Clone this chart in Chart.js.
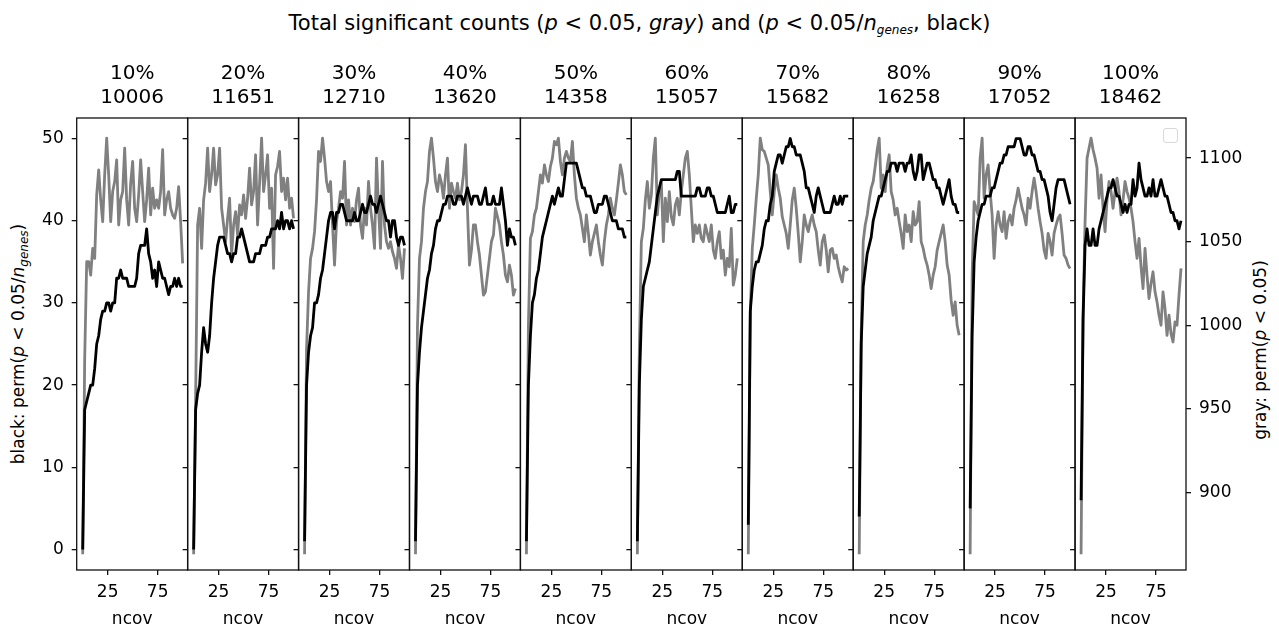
<!DOCTYPE html>
<html>
<head>
<meta charset="utf-8">
<script src="https://cdn.jsdelivr.net/npm/chart.js@4.4.0/dist/chart.umd.min.js"></script>
<style>
html, body { margin: 0; padding: 0; background: #fff; }
#wrap { position: relative; width: 1279px; height: 628px; overflow: hidden; font-family: 'DejaVu Sans', sans-serif; color: #000; }
#wrap canvas { position: absolute; left: 0; top: 0; }
.title { position: absolute; left: 0; width: 1279px; top: 10px; text-align: center; font-size: 21px; line-height: 27px; white-space: nowrap; }
.ylab { position: absolute; white-space: nowrap; font-size: 17px; line-height: 20px; transform: translate(-50%, -50%) rotate(-90deg); }
sub { font-size: 12px; vertical-align: -4px; line-height: 0; }
.legendbox { position: absolute; left: 1163px; top: 128px; width: 13px; height: 13px; border: 1px solid #d8d8d8; border-radius: 3px; }
</style>
</head>
<body>
<div id="wrap">
  <div class="title">Total significant counts (<i>p</i> &lt; 0.05, <i>gray</i>) and (<i>p</i> &lt; 0.05/<i>n</i><sub><i>genes</i></sub>, black)</div>
  <div class="ylab" style="left:18px; top:344px;">black: perm(<i>p</i> &lt; 0.05/<i>n</i><sub><i>genes</i></sub>)</div>
  <div class="ylab" style="left:1260px; top:350px;">gray: perm(<i>p</i> &lt; 0.05)</div>
  <div class="legendbox"></div>
</div>
<script>
// x values (ncov) shared by all panels
const ncov = [0,2,4,6,8,10,12,14,16,18,20,22,24,26,28,30,32,34,36,38,40,42,44,46,48,50,
              52,54,56,58,60,62,64,66,68,70,72,74,76,78,80,82,84,86,88,90,92,94,96,98,100];

// panel headings
const panelPcts = ['10%', '20%', '30%', '40%', '50%', '60%', '70%', '80%', '90%', '100%'];
const panelCounts = ['10006', '11651', '12710', '13620', '14358', '15057', '15682', '16258', '17052', '18462'];

// tick labels
const xTicks = [25, 75];
const blackTicks = [0, 10, 20, 30, 40, 50];
const grayTicks = [900, 950, 1000, 1050, 1100];

// black: perm(p < 0.05/n_genes)
const black10 = [0,17,18,19,20,20,22,25,26,28, 29,29,30,30,29,30,30,33,33,34, 33,33,33,32,32,32,32,33,36,37, 37,37,39,36,35,33,34,32,35,34, 33,33,32,31,32,32,33,32,33,32, 32];
const black20 = [0,17,19,20,24,27,25,24,26,30, 33,35,37,38,38,38,37,36,36,35, 36,36,38,38,39,38,37,36,35,35, 35,36,36,36,37,37,37,38,38,39, 39,39,40,39,41,39,40,40,39,40, 39];
const black30 = [1,20,24,26,27,30,30,31,33,34, 36,38,40,41,41,39,41,41,42,42, 41,40,40,40,40,41,40,40,41,42, 41,41,42,43,42,42,41,42,43,42, 41,40,40,38,40,40,38,37,38,38, 37];
const black40 = [1,20,24,27,29,31,33,34,36,37, 39,40,40,41,42,42,43,43,43,42, 42,43,43,43,42,43,44,43,42,43, 43,43,42,42,43,44,42,42,42,43, 42,42,42,44,42,40,37,39,38,38, 37];
const black50 = [1,20,26,30,31,33,34,36,38,39, 40,41,42,43,42,43,44,43,43,45, 47,47,47,47,47,47,46,45,44,44, 43,43,43,42,41,41,42,42,42,43, 43,42,41,40,40,40,39,39,39,38, 38];
const black60 = [1,20,28,32,33,34,35,37,39,41, 43,44,45,45,45,45,45,45,45,45, 46,46,43,43,43,43,43,43,43,43, 44,44,43,43,43,44,44,43,43,42, 41,41,41,41,41,42,43,41,41,42, 42];
const black70 = [3,29,32,34,35,35,36,37,39,40, 40,42,43,46,47,48,48,47,48,49, 49,50,49,49,48,48,48,47,46,44, 44,43,42,41,43,44,43,42,41,41, 41,41,42,43,42,42,43,42,43,43, 43];
const black80 = [4,25,32,34,36,37,38,40,41,42, 43,43,44,45,46,46,47,47,47,46, 47,47,47,46,47,47,48,46,45,46, 48,48,45,46,47,47,46,45,45,44, 44,43,42,43,44,45,43,42,42,41, 41];
const black90 = [5,26,35,38,40,41,42,42,43,43, 43,44,44,45,46,47,47,48,48,49, 49,49,49,50,50,50,49,48,48,49, 49,48,48,47,46,46,45,45,44,43, 41,40,42,44,45,45,45,45,44,43, 42];
const black100 = [6,28,37,39,37,37,39,37,37,39, 40,41,42,43,44,44,45,44,43,43, 42,41,42,41,42,42,45,43,44,47, 45,44,43,43,44,43,45,43,43,44, 45,44,43,43,42,41,41,40,40,39, 40];

// gray: perm(p < 0.05)
const gray10 = [863,980,1038,1038,1030,1046,1040,1078,1093,1075, 1062,1090,1112,1090,1062,1080,1086,1099,1060,1075, 1080,1106,1075,1060,1085,1098,1070,1062,1078,1099, 1080,1062,1075,1094,1066,1082,1070,1075,1070,1080, 1105,1066,1075,1080,1070,1066,1064,1070,1083,1062, 1037];
const gray20 = [863,956,1060,1070,1046,1075,1085,1106,1080,1090, 1106,1084,1090,1106,1070,1060,1050,1064,1076,1042, 1060,1068,1054,1072,1066,1078,1064,1076,1094,1072, 1080,1102,1060,1085,1112,1080,1090,1102,1070,1082, 1034,1090,1095,1104,1080,1088,1075,1088,1070,1076, 1064];
const gray30 = [863,986,1020,1040,1046,1056,1075,1104,1098,1112, 1100,1086,1080,1086,1060,1036,1062,1070,1080,1076, 1098,1060,1075,1060,1070,1062,1075,1082,1060,1052, 1070,1060,1086,1070,1060,1046,1100,1070,1046,1098, 1060,1050,1046,1050,1044,1040,1034,1048,1040,1028, 1046];
const gray40 = [863,1000,1040,1050,1070,1080,1086,1104,1112,1100, 1086,1080,1090,1085,1076,1090,1100,1070,1085,1080, 1076,1085,1075,1080,1090,1108,1070,1036,1045,1060, 1060,1050,1042,1030,1018,1020,1030,1040,1050,1054, 1070,1065,1060,1050,1042,1030,1026,1036,1030,1018, 1022];
const gray50 = [863,1000,1052,1056,1066,1070,1080,1090,1085,1096, 1090,1086,1095,1100,1110,1108,1112,1098,1090,1100, 1104,1100,1098,1110,1090,1076,1070,1066,1058,1050, 1066,1055,1042,1050,1055,1060,1050,1042,1036,1050, 1060,1066,1076,1070,1066,1075,1085,1096,1090,1080, 1078];
const gray60 = [863,986,1050,1058,1075,1086,1070,1078,1100,1112, 1066,1080,1086,1050,1076,1062,1080,1065,1060,1072, 1076,1066,1080,1090,1100,1104,1090,1070,1050,1060, 1055,1060,1052,1050,1060,1055,1050,1060,1045,1040, 1050,1056,1040,1045,1030,1040,1035,1058,1024,1030, 1040];
const gray70 = [863,1006,1046,1060,1076,1090,1112,1105,1104,1100, 1096,1080,1066,1080,1090,1082,1076,1065,1060,1055, 1046,1060,1075,1082,1070,1055,1038,1050,1066,1060, 1056,1062,1066,1060,1056,1045,1036,1050,1054,1045, 1032,1045,1046,1040,1042,1035,1030,1026,1035,1033, 1034];
const gray80 = [863,996,1050,1060,1066,1075,1082,1086,1095,1105, 1112,1082,1090,1080,1095,1102,1080,1075,1066,1070, 1062,1055,1046,1066,1056,1060,1050,1068,1060,1062, 1074,1050,1046,1040,1036,1030,1022,1030,1035,1045, 1050,1055,1060,1050,1036,1030,1015,1006,1014,1000, 994];
const gray90 = [863,1030,1074,1070,1066,1100,1112,1076,1090,1096, 1080,1066,1040,1060,1068,1060,1056,1068,1052,1062, 1066,1060,1070,1075,1082,1076,1070,1066,1060,1076, 1070,1080,1088,1080,1070,1062,1055,1045,1040,1055, 1050,1042,1055,1060,1064,1066,1055,1042,1040,1036, 1034];
const gray100 = [863,1006,1062,1100,1106,1112,1105,1100,1094,1076, 1090,1070,1056,1075,1086,1080,1070,1080,1088,1080, 1066,1075,1086,1080,1076,1070,1062,1050,1040,1052, 1035,1022,1046,1030,1016,1025,1032,1020,1014,1006, 1000,1020,1010,994,1006,995,990,1002,1000,1018, 1034];

const blackSeries = [black10, black20, black30, black40, black50, black60, black70, black80, black90, black100];
const graySeries = [gray10, gray20, gray30, gray40, gray50, gray60, gray70, gray80, gray90, gray100];

document.addEventListener('DOMContentLoaded', function () {
    const W = 1279, H = 628;
    const plotLeft = 76.7, plotRight = 1186, plotBottom = 570;
    const panelW = (plotRight - plotLeft) / 10;
    const family = "'DejaVu Sans', sans-serif";
    const wrap = document.getElementById('wrap');

    // 四邊框線
    const framePlugin = {
        id: 'frame',
        afterDraw(chart) {
            const a = chart.chartArea;
            const ctx = chart.ctx;
            ctx.save();
            ctx.strokeStyle = '#111';
            ctx.lineWidth = 1.3;
            ctx.strokeRect(a.left, a.top, a.right - a.left, a.bottom - a.top);
            ctx.restore();
        }
    };

    const tickGrid = { drawOnChartArea: false, drawTicks: true, tickLength: 5, color: '#111', lineWidth: 1.3 };
    const plainLabel = v => String(v);

    blackSeries.forEach(function (blk, i) {
        const canvas = document.createElement('canvas');
        canvas.width = W;
        canvas.height = H;
        canvas.style.width = W + 'px';
        canvas.style.height = H + 'px';
        wrap.appendChild(canvas);

        const left = plotLeft + i * panelW;
        const right = left + panelW;
        const first = i === 0;
        const last = i === blackSeries.length - 1;

        new Chart(canvas, {
            type: 'line',
            data: {
                datasets: [
                    {
                        data: ncov.map((x, j) => ({ x: x, y: blk[j] })),
                        yAxisID: 'y',
                        borderColor: '#000',
                        borderWidth: 2.8,
                        borderJoinStyle: 'round',
                        pointRadius: 0,
                        tension: 0
                    },
                    {
                        data: ncov.map((x, j) => ({ x: x, y: graySeries[i][j] })),
                        yAxisID: 'y2',
                        borderColor: '#808080',
                        borderWidth: 2.8,
                        borderJoinStyle: 'round',
                        pointRadius: 0,
                        tension: 0
                    }
                ]
            },
            options: {
                responsive: false,
                animation: false,
                devicePixelRatio: 1,
                layout: { padding: { left: first ? 0 : left, right: last ? 0 : W - right, top: 60, bottom: 0 } },
                plugins: {
                    legend: { display: false },
                    tooltip: { enabled: false },
                    title: {
                        display: true,
                        fullSize: false,
                        text: [panelPcts[i], panelCounts[i]],
                        color: '#000',
                        font: { size: 20, family: family, weight: 'normal', lineHeight: 1.2 },
                        padding: { top: 1.5, bottom: 8.5 }
                    }
                },
                scales: {
                    x: {
                        type: 'linear',
                        min: -6,
                        max: 105,
                        afterBuildTicks: s => { s.ticks = xTicks.map(v => ({ value: v })); },
                        afterFit: s => { s.height = H - plotBottom; },
                        grid: tickGrid,
                        border: { display: false },
                        ticks: { color: '#000', font: { size: 17, family: family }, padding: 7, maxRotation: 0, autoSkip: false, callback: plainLabel },
                        title: { display: true, text: 'ncov', color: '#000', font: { size: 17, family: family, lineHeight: 1 }, padding: 0 }
                    },
                    y: {
                        position: 'left',
                        min: -2.5,
                        max: 52.5,
                        afterBuildTicks: s => { s.ticks = blackTicks.map(v => ({ value: v })); },
                        afterFit: s => { s.width = first ? plotLeft : 0; },
                        grid: tickGrid,
                        border: { display: false },
                        ticks: { display: first, color: '#000', font: { size: 17, family: family }, padding: 8, autoSkip: false, callback: plainLabel }
                    },
                    y2: {
                        position: 'right',
                        display: last,
                        min: 853.6,
                        max: 1124,
                        afterBuildTicks: s => { s.ticks = grayTicks.map(v => ({ value: v })); },
                        afterFit: s => { s.width = last ? W - plotRight : 0; },
                        grid: tickGrid,
                        border: { display: false },
                        ticks: { color: '#000', font: { size: 17, family: family }, padding: 8, autoSkip: false, callback: plainLabel }
                    }
                }
            },
            plugins: [framePlugin]
        });
    });
});
</script>
</body>
</html>
